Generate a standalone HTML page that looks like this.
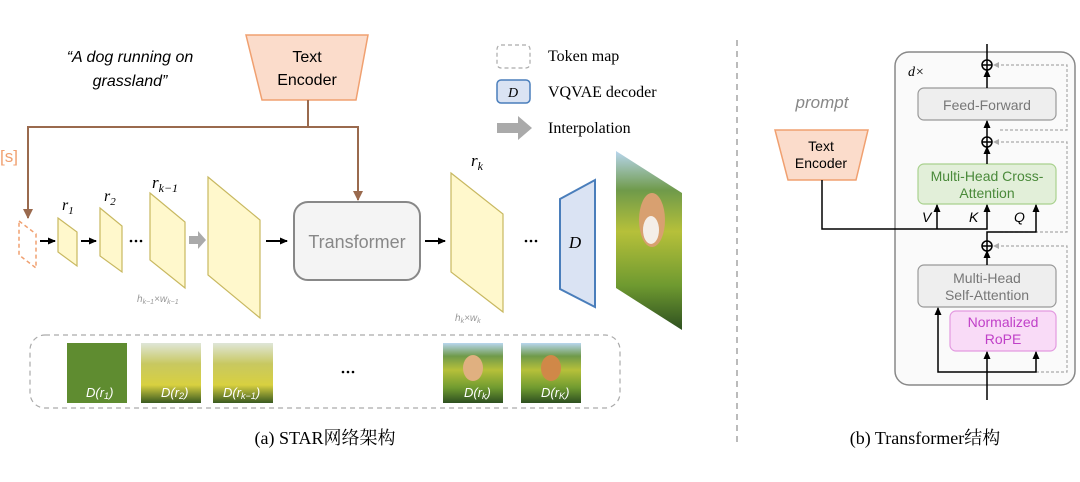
<!DOCTYPE html>
<html><head><meta charset="utf-8"><style>
html,body{margin:0;padding:0;background:#fff}
svg{display:block}
text{font-family:"Liberation Sans","Noto Sans CJK SC",sans-serif}
.serif{font-family:"Liberation Serif","Noto Serif CJK SC","Noto Sans CJK SC",serif}
</style></head><body>
<svg width="1080" height="482" viewBox="0 0 1080 482" xmlns="http://www.w3.org/2000/svg">
<defs>
<marker id="ab" markerWidth="8" markerHeight="8" refX="7" refY="4" orient="auto" markerUnits="userSpaceOnUse"><path d="M0,0.5 L8,4 L0,7.5Z" fill="#000"/></marker>
<marker id="abr" markerWidth="10" markerHeight="10" refX="9" refY="5" orient="auto" markerUnits="userSpaceOnUse"><path d="M0,0 L10,5 L0,10Z" fill="#9a6a4e"/></marker>
<linearGradient id="dog" x1="0" y1="0" x2="0" y2="1">
<stop offset="0" stop-color="#b8d6ee"/><stop offset="0.22" stop-color="#6f9a4a"/><stop offset="0.45" stop-color="#b6c03a"/><stop offset="0.75" stop-color="#6f9a30"/><stop offset="1" stop-color="#2e5020"/></linearGradient>
<linearGradient id="blur" x1="0" y1="0" x2="0" y2="1">
<stop offset="0" stop-color="#dfe6d8"/><stop offset="0.35" stop-color="#c8c860"/><stop offset="0.7" stop-color="#d8d040"/><stop offset="1" stop-color="#3a5a20"/></linearGradient>
</defs>

<text x="130" y="62" font-size="16" font-style="italic" text-anchor="middle">“A dog running on</text>
<text x="130" y="86" font-size="16" font-style="italic" text-anchor="middle">grassland”</text>

<polygon points="246,35 368,35 356,100 262,100" fill="#fbdccb" stroke="#f0a070" stroke-width="1.5"/>
<text x="307" y="62" font-size="16" text-anchor="middle">Text</text>
<text x="307" y="85" font-size="16" text-anchor="middle">Encoder</text>

<polyline points="308,100 308,127 28,127 28,218" fill="none" stroke="#9a6a4e" stroke-width="2" marker-end="url(#abr)"/>
<polyline points="300,127 358,127 358,200" fill="none" stroke="#9a6a4e" stroke-width="2" marker-end="url(#abr)"/>
<text x="0" y="162" font-size="17" fill="#f0a070">[s]</text>

<polygon points="19,221 36,234 36,268 19,255" fill="none" stroke="#f0a070" stroke-width="1.5" stroke-dasharray="4,3"/>
<line x1="40" y1="241" x2="55" y2="241" stroke="#000" stroke-width="2" marker-end="url(#ab)"/>
<polygon points="58,218 77,232 77,266 58,252" fill="#fff8cc" stroke="#c8b860" stroke-width="1.2"/>
<text x="62" y="210" font-size="16" font-style="italic" class="serif">r<tspan font-size="11" dy="4">1</tspan></text>
<line x1="81" y1="241" x2="96" y2="241" stroke="#000" stroke-width="2" marker-end="url(#ab)"/>
<polygon points="100,208 122,226 122,272 100,256" fill="#fff8cc" stroke="#c8b860" stroke-width="1.2"/>
<text x="104" y="201" font-size="16" font-style="italic" class="serif">r<tspan font-size="11" dy="4">2</tspan></text>
<g fill="#000"><circle cx="131" cy="241" r="1.3"/><circle cx="136" cy="241" r="1.3"/><circle cx="141" cy="241" r="1.3"/></g>
<polygon points="150,193 185,222 185,288 150,260" fill="#fff8cc" stroke="#c8b860" stroke-width="1.2"/>
<text x="152" y="188" font-size="17" font-style="italic" class="serif">r<tspan font-size="12" dy="4">k−1</tspan></text>
<text x="137" y="302" font-size="10" fill="#999" font-style="italic">h<tspan font-size="7" dy="2">k−1</tspan><tspan dy="-2">×w</tspan><tspan font-size="7" dy="2">k−1</tspan></text>
<polygon points="189,236 198,236 198,231 206,240 198,249 198,244 189,244" fill="#aaa"/>
<polygon points="208,177 260,220 260,318 208,275" fill="#fff8cc" stroke="#c8b860" stroke-width="1.2"/>
<line x1="266" y1="241" x2="287" y2="241" stroke="#000" stroke-width="2" marker-end="url(#ab)"/>
<rect x="294" y="202" width="126" height="78" rx="14" fill="#f4f4f4" stroke="#888" stroke-width="2"/>
<text x="357" y="248" font-size="18" fill="#888" text-anchor="middle">Transformer</text>
<line x1="425" y1="241" x2="445" y2="241" stroke="#000" stroke-width="2" marker-end="url(#ab)"/>
<polygon points="451,173 503,214 503,312 451,272" fill="#fff8cc" stroke="#c8b860" stroke-width="1.2"/>
<text x="471" y="166" font-size="17" font-style="italic" class="serif">r<tspan font-size="12" dy="4">k</tspan></text>
<text x="455" y="321" font-size="10" fill="#999" font-style="italic">h<tspan font-size="7" dy="2">k</tspan><tspan dy="-2">×w</tspan><tspan font-size="7" dy="2">k</tspan></text>
<g fill="#000"><circle cx="526" cy="241" r="1.3"/><circle cx="531" cy="241" r="1.3"/><circle cx="536" cy="241" r="1.3"/></g>
<polygon points="560,199 595,180 595,307 560,289" fill="#dae3f3" stroke="#4a7ebb" stroke-width="2"/>
<text x="575" y="248" font-size="17" font-style="italic" text-anchor="middle" class="serif">D</text>
<polygon points="616,151 682,193 682,330 616,288" fill="url(#dog)"/>
<ellipse cx="652" cy="220" rx="13" ry="27" fill="#d8a070"/>
<ellipse cx="651" cy="230" rx="8" ry="14" fill="#f4eee8"/>

<rect x="497" y="45" width="33" height="23" rx="4" fill="none" stroke="#aaa" stroke-width="1.2" stroke-dasharray="4,3"/>
<text x="548" y="61" font-size="16" class="serif">Token map</text>
<rect x="497" y="80" width="33" height="23" rx="4" fill="#dae3f3" stroke="#4a7ebb" stroke-width="1.5"/>
<text x="513" y="97" font-size="14" font-style="italic" text-anchor="middle" class="serif">D</text>
<text x="548" y="97" font-size="16" class="serif">VQVAE decoder</text>
<polygon points="497,123 518,123 518,116 532,128 518,140 518,133 497,133" fill="#aaa"/>
<text x="548" y="133" font-size="16" class="serif">Interpolation</text>

<rect x="30" y="335" width="590" height="73" rx="15" fill="none" stroke="#aaa" stroke-width="1.2" stroke-dasharray="5,4"/>
<rect x="67" y="343" width="60" height="60" fill="#5f8c30"/>
<rect x="141" y="343" width="60" height="60" fill="url(#blur)"/>
<rect x="213" y="343" width="60" height="60" fill="url(#blur)"/>
<rect x="443" y="343" width="60" height="60" fill="url(#dog)"/>
<rect x="521" y="343" width="60" height="60" fill="url(#dog)"/>
<ellipse cx="473" cy="368" rx="10" ry="13" fill="#e0b080"/>
<ellipse cx="551" cy="368" rx="10" ry="13" fill="#d08848"/>
<g font-size="13" font-style="italic" fill="#fff" class="serif">
<text x="86" y="397">D(r<tspan font-size="9" dy="2">1</tspan><tspan dy="-2">)</tspan></text>
<text x="161" y="397">D(r<tspan font-size="9" dy="2">2</tspan><tspan dy="-2">)</tspan></text>
<text x="223" y="397">D(r<tspan font-size="9" dy="2">k−1</tspan><tspan dy="-2">)</tspan></text>
<text x="464" y="397">D(r<tspan font-size="9" dy="2">k</tspan><tspan dy="-2">)</tspan></text>
<text x="541" y="397">D(r<tspan font-size="9" dy="2">K</tspan><tspan dy="-2">)</tspan></text>
</g>
<g fill="#000"><circle cx="343" cy="372" r="1.3"/><circle cx="348" cy="372" r="1.3"/><circle cx="353" cy="372" r="1.3"/></g>
<text x="325" y="444" font-size="18" text-anchor="middle" class="serif">(a) STAR网络架构</text>

<line x1="737" y1="40" x2="737" y2="445" stroke="#bbb" stroke-width="2" stroke-dasharray="6,5"/>

<text x="822" y="108" font-size="17" font-style="italic" fill="#888" text-anchor="middle">prompt</text>
<polygon points="775,130 868,130 856,180 788,180" fill="#fbdccb" stroke="#f0a070" stroke-width="1.5"/>
<text x="821" y="151" font-size="14" text-anchor="middle">Text</text>
<text x="821" y="168" font-size="14" text-anchor="middle">Encoder</text>

<rect x="895" y="52" width="180" height="333" rx="14" fill="#fafafa" stroke="#888" stroke-width="1.5"/>
<text x="908" y="76" font-size="14" font-style="italic" class="serif">d×</text>

<g stroke="#aaa" stroke-width="1.2" stroke-dasharray="3,2" fill="none">
<polyline points="1036,372 1067,372 1067,246 995,246"/>
<polyline points="1000,232 1067,232 1067,142 995,142"/>
<polyline points="1000,130 1067,130 1067,65 995,65"/>
</g>
<polygon points="993,246 999,243 999,249" fill="#aaa"/>
<polygon points="993,142 999,139 999,145" fill="#aaa"/>
<polygon points="993,65 999,62 999,68" fill="#aaa"/>

<rect x="918" y="88" width="138" height="32" rx="6" fill="#eeeeee" stroke="#999" stroke-width="1.2"/>
<text x="987" y="110" font-size="14" fill="#777" text-anchor="middle">Feed-Forward</text>
<rect x="918" y="164" width="138" height="40" rx="6" fill="#e2efd9" stroke="#a9d18e" stroke-width="1.2"/>
<text x="987" y="181" font-size="14" fill="#4a8a3a" text-anchor="middle">Multi-Head Cross-</text>
<text x="987" y="198" font-size="14" fill="#4a8a3a" text-anchor="middle">Attention</text>
<rect x="918" y="265" width="138" height="42" rx="6" fill="#eeeeee" stroke="#999" stroke-width="1.2"/>
<text x="987" y="283" font-size="14" fill="#777" text-anchor="middle">Multi-Head</text>
<text x="987" y="300" font-size="14" fill="#777" text-anchor="middle">Self-Attention</text>
<rect x="950" y="311" width="106" height="40" rx="6" fill="#f9dbf7" stroke="#e39ae0" stroke-width="1.2"/>
<text x="1003" y="327" font-size="14" fill="#c040c8" text-anchor="middle">Normalized</text>
<text x="1003" y="344" font-size="14" fill="#c040c8" text-anchor="middle">RoPE</text>

<g stroke="#000" stroke-width="1.5" fill="none">
<line x1="987" y1="400" x2="987" y2="352" marker-end="url(#ab)"/>
<polyline points="987,372 938,372 938,308" marker-end="url(#ab)"/>
<polyline points="987,372 1036,372 1036,352" marker-end="url(#ab)"/>
<line x1="987" y1="265" x2="987" y2="251" marker-end="url(#ab)"/>
<polyline points="987,241 987,232 1036,232 1036,205" marker-end="url(#ab)"/>
<polyline points="822,180 822,229 987,229 987,205" marker-end="url(#ab)"/>
<line x1="937" y1="229" x2="937" y2="205" marker-end="url(#ab)"/>
<line x1="987" y1="164" x2="987" y2="147" marker-end="url(#ab)"/>
<line x1="987" y1="137" x2="987" y2="121" marker-end="url(#ab)"/>
<line x1="987" y1="88" x2="987" y2="70" marker-end="url(#ab)"/>
<line x1="987" y1="60" x2="987" y2="44"/>
<circle cx="987" cy="246" r="5"/><line x1="982" y1="246" x2="992" y2="246"/><line x1="987" y1="241" x2="987" y2="251"/>
<circle cx="987" cy="142" r="5"/><line x1="982" y1="142" x2="992" y2="142"/><line x1="987" y1="137" x2="987" y2="147"/>
<circle cx="987" cy="65" r="5"/><line x1="982" y1="65" x2="992" y2="65"/><line x1="987" y1="60" x2="987" y2="70"/>
</g>
<g font-size="14" font-style="italic" class="serif">
<text x="922" y="222">V</text><text x="969" y="222">K</text><text x="1014" y="222">Q</text>
</g>
<text x="925" y="444" font-size="18" text-anchor="middle" class="serif">(b) Transformer结构</text>
</svg>
</body></html>
